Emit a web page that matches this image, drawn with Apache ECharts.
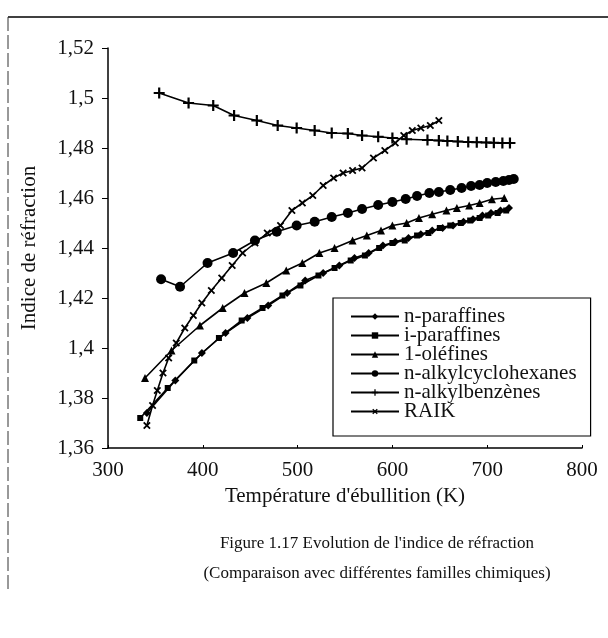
<!DOCTYPE html>
<html>
<head>
<meta charset="utf-8">
<script src="https://cdn.jsdelivr.net/npm/echarts@6/dist/echarts.min.js"></script>
<style>
  html, body { margin: 0; padding: 0; background: #fff; }
  #chart { width: 608px; height: 638px; }
</style>
</head>
<body>
<div id="chart"></div>
<script>
// boiling temperature (K) and refractive index
const nParT = [341, 371, 399, 424, 447, 469, 489, 508, 527, 544, 560, 575, 590, 603, 617, 630, 642, 653, 664, 675, 685, 695, 704, 714, 723];
const nParN = [1.374, 1.387, 1.398, 1.406, 1.412, 1.417, 1.422, 1.427, 1.430, 1.433, 1.436, 1.438, 1.441, 1.4425, 1.444, 1.4455, 1.447, 1.448, 1.449, 1.4505, 1.4515, 1.453, 1.454, 1.455, 1.456];

const iParT = [334, 363, 391, 417, 441, 463, 484, 503, 522, 539, 556, 571, 586, 600, 613, 626, 638, 650, 661, 672, 682, 692, 701, 711, 720];
const iParN = [1.372, 1.384, 1.395, 1.404, 1.411, 1.416, 1.421, 1.425, 1.429, 1.432, 1.435, 1.437, 1.440, 1.442, 1.443, 1.445, 1.446, 1.448, 1.449, 1.450, 1.451, 1.452, 1.453, 1.454, 1.455];

const oleT = [339, 367, 397, 421, 444, 467, 488, 505, 523, 539, 558, 573, 588, 600, 615, 628, 642, 657, 668, 681, 692, 705, 718];
const oleN = [1.388, 1.399, 1.409, 1.416, 1.422, 1.426, 1.431, 1.434, 1.438, 1.440, 1.443, 1.445, 1.447, 1.449, 1.450, 1.452, 1.4535, 1.455, 1.456, 1.457, 1.458, 1.4595, 1.460];

const cyhT = [356, 376, 405, 432, 455, 478, 499, 518, 536, 553, 568, 585, 600, 614, 626, 639, 649, 661, 673, 683, 692, 700, 709, 717, 723, 728];
const cyhN = [1.4275, 1.4245, 1.434, 1.438, 1.443, 1.4465, 1.449, 1.4505, 1.4524, 1.454, 1.4556, 1.4572, 1.4584, 1.4596, 1.4608, 1.462, 1.4624, 1.4632, 1.464, 1.4648, 1.4652, 1.466, 1.4664, 1.4668, 1.4672, 1.4676];

const benT = [354, 385, 411, 433, 457, 479, 499, 518, 536, 553, 568, 585, 600, 615, 637, 649, 658, 669, 680, 689, 699, 707, 716, 724];
const benN = [1.502, 1.498, 1.497, 1.493, 1.491, 1.489, 1.488, 1.487, 1.486, 1.4858, 1.485, 1.4845, 1.484, 1.4835, 1.4832, 1.483, 1.4828, 1.4826, 1.4824, 1.4823, 1.4822, 1.4821, 1.482, 1.482];

const raikT = [341, 347, 352, 358, 364, 372, 381, 390, 399, 409, 420, 431, 442, 455, 468, 482, 494, 505, 516, 527, 538, 548, 558, 568, 580, 592, 603, 612, 621, 630, 640, 649];
const raikN = [1.369, 1.377, 1.383, 1.390, 1.396, 1.402, 1.408, 1.413, 1.418, 1.423, 1.428, 1.433, 1.438, 1.442, 1.446, 1.449, 1.455, 1.458, 1.461, 1.465, 1.468, 1.470, 1.471, 1.472, 1.476, 1.479, 1.482, 1.485, 1.487, 1.488, 1.489, 1.491];

const xTicks = [300, 400, 500, 600, 700, 800];

const serif = '"Liberation Serif", "DejaVu Serif", serif';
const plusPath = 'path://M4,0h2v4h4v2h-4v4h-2v-4h-4v-2h4z';

const zip = (xs, ys) => xs.map((x, i) => [x, ys[i]]);

function line(name, xs, ys, symbol, size, rotate) {
  return {
    name: name,
    type: 'line',
    data: zip(xs, ys),
    symbol: symbol,
    symbolSize: size,
    symbolRotate: rotate || 0,
    showAllSymbol: true,
    lineStyle: { color: '#000', width: 1.6 },
    itemStyle: { color: '#000' },
    emphasis: { disabled: true },
    animation: false
  };
}

const chart = echarts.init(document.getElementById('chart'));
chart.setOption({
  backgroundColor: '#fff',
  title: {
    text: "Figure 1.17 Evolution de l'indice de réfraction\n(Comparaison avec différentes familles chimiques)",
    left: 372,
    top: 524,
    textAlign: 'center',
    textStyle: { fontFamily: serif, fontSize: 17, fontWeight: 'normal', color: '#111', lineHeight: 30 }
  },
  grid: { left: 108, right: 26, top: 48, bottom: 190 },
  xAxis: {
    type: 'value',
    min: 300, max: 800, interval: 100,
    name: "Température d'ébullition (K)",
    nameLocation: 'middle',
    nameGap: 38,
    nameTextStyle: { fontFamily: serif, fontSize: 21, color: '#111' },
    axisLine: { lineStyle: { color: '#000', width: 1.5 } },
    axisTick: { show: true, inside: true, length: 3, lineStyle: { color: '#000' } },
    axisLabel: { fontFamily: serif, fontSize: 21, color: '#111', margin: 12,
      formatter: v => xTicks.includes(v) ? String(v) : '' },
    splitLine: { show: false }
  },
  yAxis: {
    type: 'value',
    min: 1.36, max: 1.52, interval: 0.02,
    name: 'Indice de réfraction',
    nameLocation: 'middle',
    nameGap: 68,
    nameRotate: 90,
    nameTextStyle: { fontFamily: serif, fontSize: 21, color: '#111' },
    axisLine: { show: true, lineStyle: { color: '#000', width: 1.5 } },
    axisTick: { show: true, length: 6, lineStyle: { color: '#000' } },
    axisLabel: { fontFamily: serif, fontSize: 21, color: '#111', margin: 14,
      formatter: v => String(+v.toFixed(2)).replace('.', ',') },
    splitLine: { show: false }
  },
  legend: {
    orient: 'vertical',
    left: 333,
    top: 298,
    padding: [8, 14, 14, 17],
    itemGap: -2,
    itemWidth: 48,
    itemHeight: 8,
    borderColor: '#000',
    borderWidth: 1.2,
    backgroundColor: '#fff',
    textStyle: { fontFamily: serif, fontSize: 21, color: '#111' },
    data: ['n-paraffines', 'i-paraffines', '1-oléfines', 'n-alkylcyclohexanes', 'n-alkylbenzènes', 'RAIK']
  },
  graphic: [
    { type: 'line', shape: { x1: 8, y1: 17, x2: 608, y2: 17 }, style: { stroke: '#000', lineWidth: 1.5 } },
    { type: 'line', shape: { x1: 8, y1: 17, x2: 8, y2: 592 }, style: { stroke: '#333', lineWidth: 1, lineDash: [14, 4] } }
  ],
  series: [
    line('n-paraffines', nParT, nParN, 'diamond', 8),
    line('i-paraffines', iParT, iParN, 'rect', 6),
    line('1-oléfines', oleT, oleN, 'triangle', 8),
    line('n-alkylcyclohexanes', cyhT, cyhN, 'circle', 10),
    line('n-alkylbenzènes', benT, benN, plusPath, 11),
    line('RAIK', raikT, raikN, plusPath, 9, 45)
  ]
});
</script>
</body>
</html>
